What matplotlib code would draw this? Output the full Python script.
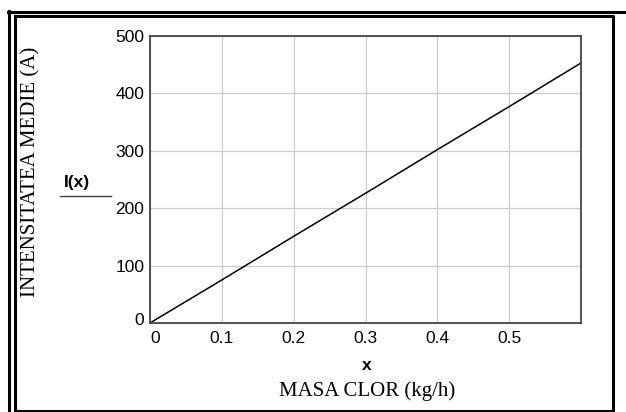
import matplotlib
matplotlib.use('Agg')
import matplotlib.pyplot as plt
import matplotlib.transforms as mtransforms
from matplotlib.lines import Line2D

# Dados: massa de cloro (kg/h) e intensitatea medie (A).
masa = [0.0, 0.1, 0.2, 0.3, 0.4, 0.5, 0.6]
intensitate = [0, 75, 151, 226, 302, 377, 453]

xticks = [0, 0.1, 0.2, 0.3, 0.4, 0.5]
xtick_labels = ['0', '0.1', '0.2', '0.3', '0.4', '0.5']
yticks = [0, 100, 200, 300, 400, 500]
ytick_labels = ['0', '100', '200', '300', '400', '500']

W, H = 626, 412
fig = plt.figure(figsize=(W / 100, H / 100), dpi=100)
fig.patch.set_facecolor('white')


def px(x, y):
    return x / W, 1 - y / H


# Eixos na posicao da figura original.
l, r, t, b = 150, 581, 36, 323
ax = fig.add_axes([l / W, 1 - b / H, (r - l) / W, (b - t) / H])

ax.plot(masa, intensitate, color='black', lw=1.1)
ax.set_xlim(0, 0.6)
ax.set_ylim(0, 500)

ax.set_xticks(xticks)
ax.set_yticks(yticks)
ax.set_xticklabels(xtick_labels, fontname='Liberation Sans', fontsize=12.5)
ax.set_yticklabels(ytick_labels, fontname='Liberation Sans', fontsize=12.5)
ax.tick_params(axis='x', length=0, pad=6)
ax.tick_params(axis='y', length=0, pad=4)
ax.grid(True, color='#cccccc', lw=0.9)
ax.set_axisbelow(True)
for s in ax.spines.values():
    s.set_color('#444444')
    s.set_linewidth(1.3)

# O "0" dos dois eixos fica deslocado, como no original.
fig.canvas.draw()
xl0 = ax.get_xticklabels()[0]
xl0.set_transform(xl0.get_transform() + mtransforms.ScaledTranslation(5 / 100, 0, fig.dpi_scale_trans))
yl0 = ax.get_yticklabels()[0]
yl0.set_transform(yl0.get_transform() + mtransforms.ScaledTranslation(0, 4 / 100, fig.dpi_scale_trans))

# Rotulos dos eixos.
fig.text(*px(367, 365), 'x', fontname='Liberation Sans', fontweight='bold',
         fontsize=12.5, ha='center', va='center')
fig.text(*px(367, 391), 'MASA CLOR (kg/h)', fontname='Liberation Serif',
         fontsize=15, ha='center', va='center')
fig.text(*px(31, 172), 'INTENSITATEA MEDIE (A)', fontname='Liberation Serif',
         fontsize=15, ha='center', va='center', rotation=90)
fig.text(*px(77, 183), 'I(x)', fontname='Liberation Sans', fontweight='bold',
         fontsize=12.5, ha='center', va='center')
fig.add_artist(Line2D([60 / W, 111 / W], [1 - 196 / H] * 2, color='#444444', lw=1.0))

# Moldura dupla.
lw = 2.2
fig.add_artist(Line2D([8 / W, 1.0], [1 - 12 / H] * 2, color='black', lw=lw))
fig.add_artist(Line2D([9 / W] * 2, [1 - 11 / H, 0], color='black', lw=lw))
fig.add_artist(Line2D([14.5 / W, 613 / W, 613 / W, 14.5 / W, 14.5 / W],
                      [1 - 15.5 / H, 1 - 15.5 / H, 1 - 411 / H, 1 - 411 / H, 1 - 15.5 / H],
                      color='black', lw=lw))

plt.savefig('out.png', dpi=100)
